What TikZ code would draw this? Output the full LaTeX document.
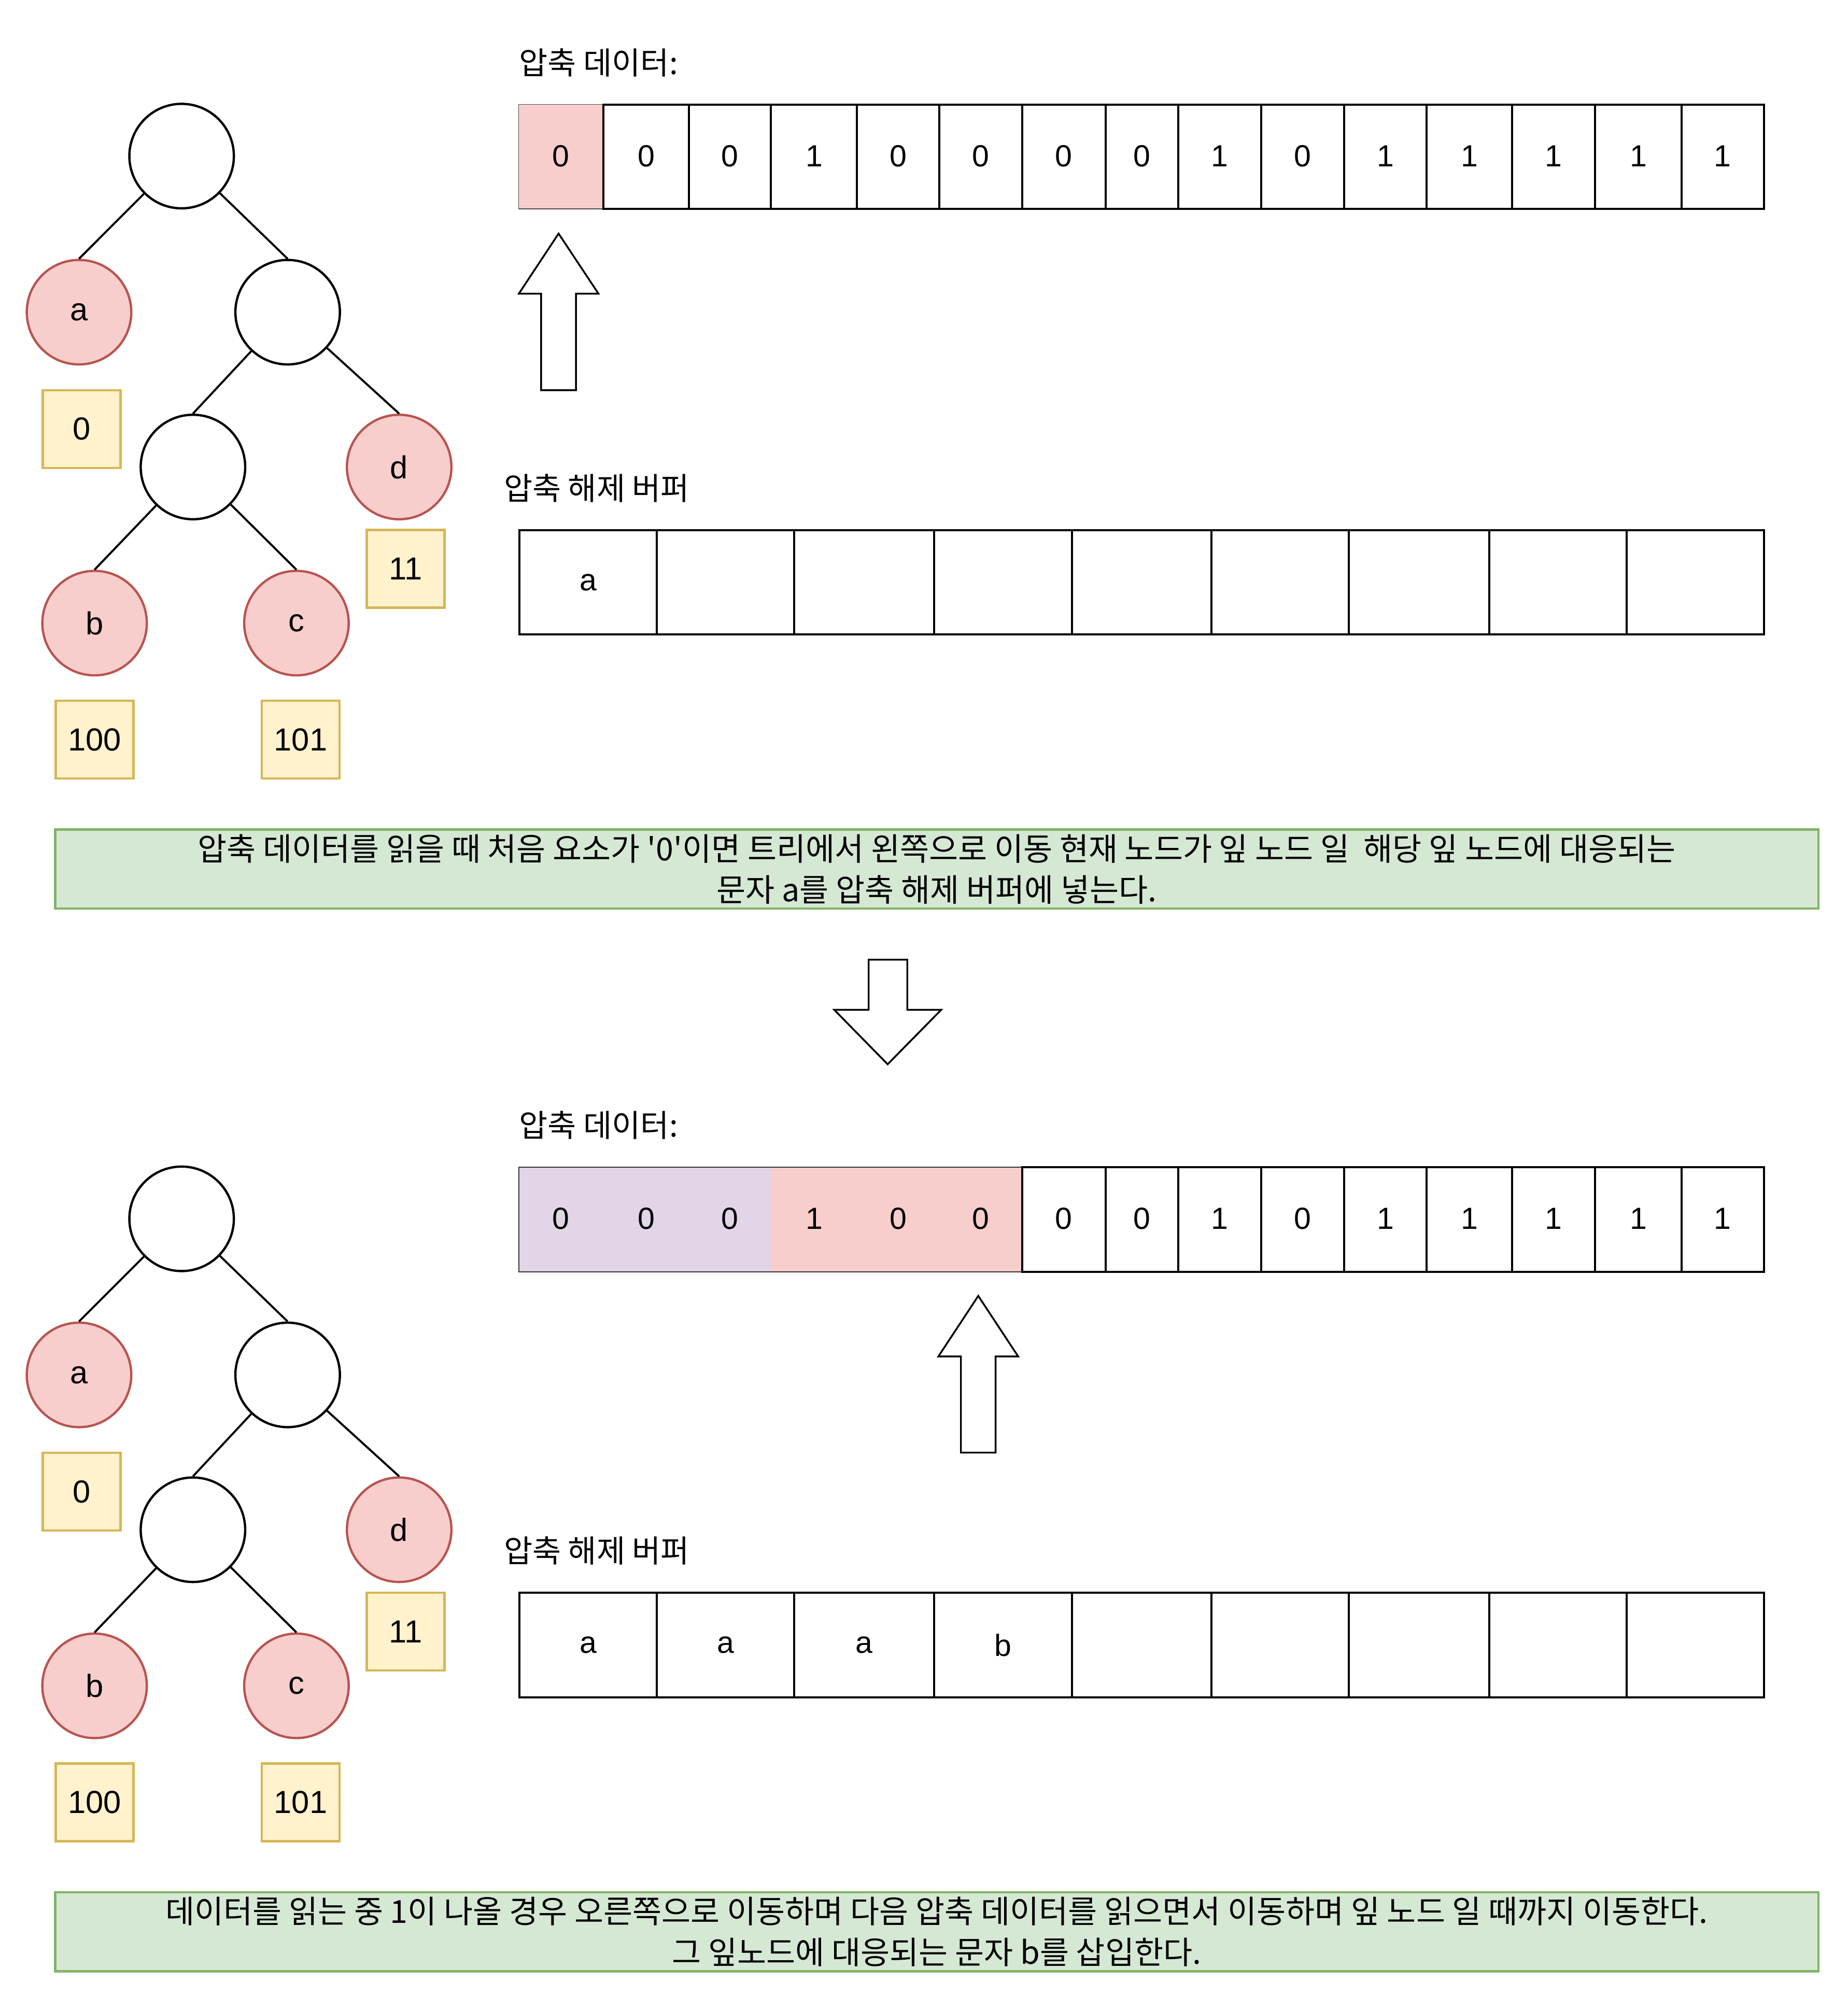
\documentclass[tikz,border=0pt]{standalone}
\usepackage{fontspec}
\setmainfont{Liberation Sans}
\newfontfamily\kr{Noto Sans CJK KR}
\usepackage{tikz}
\definecolor{leaffill}{HTML}{F8CECC}
\definecolor{leafdraw}{HTML}{B85450}
\definecolor{codefill}{HTML}{FFF2CC}
\definecolor{codedraw}{HTML}{D6B656}
\definecolor{notefill}{HTML}{D5E8D4}
\definecolor{notedraw}{HTML}{82B366}
\definecolor{donefill}{HTML}{E1D5E7}
\tikzset{
  tree node/.style={
    circle,
    draw=black,
    fill=white,
    line width=0.9pt,
    minimum size=41pt,
    inner sep=0pt,
    font=\fontsize{12.5}{15}\selectfont
  },
  leaf node/.style={
    tree node,
    draw=leafdraw,
    fill=leaffill
  },
  code box/.style={
    rectangle,
    draw=codedraw,
    fill=codefill,
    line width=0.9pt,
    minimum size=30.5pt,
    inner sep=0pt,
    font=\fontsize{12.5}{15}\selectfont
  },
  tree edge/.style={
    line width=0.8pt
  },
  cell/.style={
    draw=black,
    line width=0.8pt
  },
  bit/.style={
    inner sep=0pt,
    font=\fontsize{12}{14}\selectfont
  },
  title/.style={
    anchor=west,
    inner sep=0pt,
    font=\kr\fontsize{12.2}{14}\selectfont
  },
  note box/.style={
    rectangle,
    draw=notedraw,
    fill=notefill,
    line width=0.9pt,
    minimum width=691.75pt,
    minimum height=31pt,
    inner sep=0pt,
    align=center,
    font=\kr\fontsize{12.4}{16}\selectfont
  },
  block arrow/.style={
    draw=black,
    fill=white,
    line width=0.7pt,
    line join=miter
  }
}

\begin{document}
\begin{tikzpicture}[x=0.5pt, y=-0.5pt]
    % 그림 크기: 1단위 = 0.5pt
    \useasboundingbox (0,0) rectangle (1450,1568);

    % 허프만 트리와 부호 (위, 아래 두 번)
    \foreach \s/\dy in {1/0, 2/834} {
      \begin{scope}[shift={(0,\dy)}]
        \node[tree node] (root\s) at (142.5,122.5) {};
        \node[leaf node] (a\s) at (62,245) {a};
        \node[tree node] (n\s) at (225.7,245) {};
        \node[tree node] (m\s) at (151.4,366.5) {};
        \node[leaf node] (d\s) at (313.2,366.5) {d};
        \node[leaf node] (b\s) at (74.2,489) {b};
        \node[leaf node] (c\s) at (232.6,489) {c};

        \draw[tree edge] (root\s) -- (a\s.north);
        \draw[tree edge] (root\s) -- (n\s.north);
        \draw[tree edge] (n\s) -- (m\s.north);
        \draw[tree edge] (n\s) -- (d\s.north);
        \draw[tree edge] (m\s) -- (b\s.north);
        \draw[tree edge] (m\s) -- (c\s.north);

        \node[code box] (codea\s) at (64.1,336.7) {0};
        \node[code box] (coded\s) at (318.3,446.4) {11};
        \node[code box] (codeb\s) at (74.3,580.4) {100};
        \node[code box] (codec\s) at (235.9,580.4) {101};

        % 제목
        \node[title] (datatitle\s) at (407,49) {압축 데이터:};
        \node[title] (buftitle\s) at (395,383) {압축 해제 버퍼};
      \end{scope}
    }

    % 압축 데이터 (위): 첫 칸만 읽음
    \filldraw[fill=leaffill, draw=black!70, line width=0.3pt] (407,82) rectangle (473.5,164);
    \foreach \l/\r/\v [count=\i] in {407/473.5/0, 473.5/540.5/0, 540.5/605/0, 605/672.5/1,
        672.5/737/0, 737/802/0, 802/867.5/0, 867.5/924.5/0, 924.5/989.5/1, 989.5/1054.5/0,
        1054.5/1119.5/1, 1119.5/1186.5/1, 1186.5/1251.5/1, 1251.5/1319.5/1, 1319.5/1384/1} {
      \ifnum\i>1 \draw[cell] (\l,82) rectangle (\r,164); \fi
      \node[bit] (topbit\i) at ({(\l+\r)/2},122.5) {\v};
    }

    % 압축 해제 버퍼 (위)
    \foreach \l/\r/\v [count=\i] in {407.5/515.5/a, 515.5/623/{}, 623/733/{}, 733/841/{},
        841/950.5/{}, 950.5/1058.5/{}, 1058.5/1168.5/{}, 1168.5/1276.5/{}, 1276.5/1384/{}} {
      \draw[cell] (\l,416) rectangle (\r,498);
      \node[bit] (topbuf\i) at ({(\l+\r)/2},457) {\v};
    }

    % 위쪽 화살표
    \draw[block arrow] (424.6,306.2) -- (424.6,230.5) -- (407.1,230.5) -- (438.3,183.3)
      -- (469.6,230.5) -- (451.9,230.5) -- (451.9,306.2) -- cycle;

    % 설명 1
    \node[note box] (note1) at (735,682) {압축 데이터를 읽을 때 처음 요소가 '0'이면 트리에서 왼쪽으로 이동 현재 노드가 잎 노드 일 \ 해당 잎 노드에 대응되는\\문자 a를 압축 해제 버퍼에 넣는다.};

    % 아래로 가는 화살표
    \draw[block arrow] (681.6,753.1) -- (711.9,753.1) -- (711.9,792.5) -- (738.5,792.5)
      -- (696.5,835.2) -- (654.6,792.5) -- (681.6,792.5) -- cycle;

    % 압축 데이터 (아래): 000 -> a a a, 100 -> b
    \fill[donefill] (407,916) rectangle (605,998);
    \fill[leaffill] (605,916) rectangle (802,998);
    \draw[black!80, line width=0.4pt] (407,916) rectangle (802,998);
    \foreach \l/\r/\v [count=\i] in {407/473.5/0, 473.5/540.5/0, 540.5/605/0, 605/672.5/1,
        672.5/737/0, 737/802/0, 802/867.5/0, 867.5/924.5/0, 924.5/989.5/1, 989.5/1054.5/0,
        1054.5/1119.5/1, 1119.5/1186.5/1, 1186.5/1251.5/1, 1251.5/1319.5/1, 1319.5/1384/1} {
      \ifnum\i>6 \draw[cell] (\l,916) rectangle (\r,998); \fi
      \node[bit] (lowbit\i) at ({(\l+\r)/2},956.5) {\v};
    }

    % 압축 해제 버퍼 (아래)
    \foreach \l/\r/\v [count=\i] in {407.5/515.5/a, 515.5/623/a, 623/733/a, 733/841/b,
        841/950.5/{}, 950.5/1058.5/{}, 1058.5/1168.5/{}, 1168.5/1276.5/{}, 1276.5/1384/{}} {
      \draw[cell] (\l,1250) rectangle (\r,1332);
      \node[bit] (lowbuf\i) at ({(\l+\r)/2},1291) {\v};
    }

    % 위쪽 화살표 (아래)
    \draw[block arrow] (754.0,1140) -- (754.0,1064.5) -- (736.3,1064.5) -- (767.6,1017)
      -- (798.9,1064.5) -- (781.2,1064.5) -- (781.2,1140) -- cycle;

    % 설명 2
    \node[note box] (note2) at (735,1516) {데이터를 읽는 중 1이 나올 경우 오른쪽으로 이동하며 다음 압축 데이터를 읽으면서 이동하며 잎 노드 일 때까지 이동한다.\\그 잎노드에 대응되는 문자 b를 삽입한다.};

\end{tikzpicture}
\end{document}
